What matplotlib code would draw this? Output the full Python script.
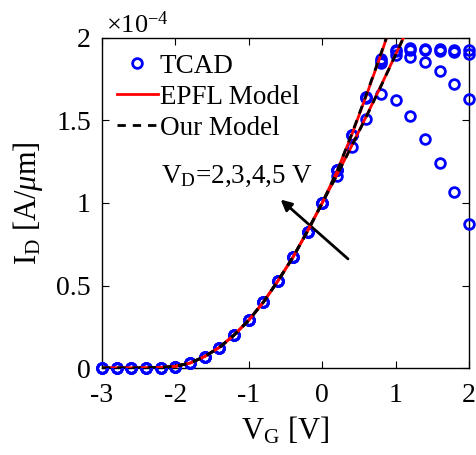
import numpy as np
import matplotlib
matplotlib.use('Agg')
import matplotlib.pyplot as plt

plt.rcParams['font.family'] = ['Liberation Serif', 'DejaVu Serif']
plt.rcParams['mathtext.fontset'] = 'custom'
plt.rcParams['mathtext.rm'] = 'Liberation Serif'
plt.rcParams['mathtext.it'] = 'Liberation Serif:italic'
plt.rcParams['axes.unicode_minus'] = False

# TCAD data, I_D in units of 1e-4 A/um
vg_tcad = np.round(np.arange(-3, 2.01, 0.2), 2)
id_low = [0, 0, 0, 0, 0, 0.008, 0.032, 0.068, 0.123, 0.2, 0.29, 0.40, 0.53, 0.67, 0.826, 1.0]
id_vd2 = id_low + [1.165, 1.34, 1.51, 1.66, 1.624, 1.525, 1.39, 1.24, 1.065, 0.871]
id_vd3 = id_low + [1.2, 1.41, 1.635, 1.85, 1.897, 1.887, 1.855, 1.80, 1.722, 1.63]
id_vd4 = id_low + [1.2, 1.41, 1.645, 1.86, 1.92, 1.93, 1.927, 1.92, 1.913, 1.90]
id_vd5 = id_low + [1.2, 1.41, 1.645, 1.87, 1.93, 1.937, 1.935, 1.932, 1.93, 1.925]

# model curves
vg_model = np.round(np.arange(-3, 1.21, 0.2), 2)
mod_low = [0, 0, 0, 0.001, 0.003, 0.01, 0.03, 0.07, 0.125, 0.2, 0.29, 0.40, 0.53, 0.67, 0.83, 1.0]
epfl_a = mod_low + [1.19, 1.41, 1.65, 1.90, 2.16, 2.42]
epfl_b = mod_low + [1.17, 1.345, 1.525, 1.71, 1.90, 2.09]
our_a = mod_low + [1.19, 1.415, 1.655, 1.905, 2.165, 2.43]
our_b = mod_low + [1.168, 1.343, 1.522, 1.708, 1.898, 2.09]

fig = plt.figure(figsize=(4.76, 4.55), dpi=100)
ax = fig.add_axes([0.2143, 0.1912, 0.771, 0.7253])

for k, ys in enumerate([id_vd2, id_vd3, id_vd4, id_vd5]):
    ax.plot(vg_tcad, ys, 'o', color='blue', mfc='none', ms=7, mew=2,
            label='TCAD' if k == 0 else None, clip_on=False, zorder=3)
for k, ys in enumerate([epfl_a, epfl_b]):
    ax.plot(vg_model, ys, '-', color='red', lw=2,
            label='EPFL Model' if k == 0 else None, zorder=4)
for k, ys in enumerate([our_a, our_b]):
    ax.plot(vg_model, ys, '--', color='black', lw=2, dashes=(3, 2.5),
            label='Our Model' if k == 0 else None, zorder=5)

ax.set_xlim(-3, 2)
ax.set_ylim(0, 2)
ax.set_xticks([-3, -2, -1, 0, 1, 2])
ax.set_yticks([0, 0.5, 1, 1.5, 2])
ax.set_yticklabels(['0', '0.5', '1', '1.5', '2'])
ax.tick_params(direction='in', top=True, right=True, length=5, labelsize=20)
ax.tick_params(axis='x', pad=11)
ax.tick_params(axis='y', pad=8)
for s in ax.spines.values():
    s.set_linewidth(1)

ax.set_xlabel(r'V$_{\rm G}$ [V]', fontsize=22, labelpad=5)
ax.set_ylabel(r'I$_{\rm D}$ [A/$\mu$m]', fontsize=22, labelpad=8)
ax.text(0.01, 1.0, r'$\times$10$^{-4}$', transform=ax.transAxes, fontsize=19,
        ha='left', va='bottom')

leg = ax.legend(loc='upper left', frameon=False, fontsize=19.5, handlelength=1.55,
                handletextpad=0.05, labelspacing=0.22, borderaxespad=0.0,
                bbox_to_anchor=(0.01, 0.985))

ax.annotate('', xy=(-0.595, 1.032), xytext=(0.38, 0.65),
            arrowprops=dict(arrowstyle='-|>', color='black', lw=2, mutation_scale=16))
ax.text(-2.19, 1.12, r'V$_{\rm D}$=2,3,4,5 V', fontsize=19.5, ha='left', va='baseline')

fig.savefig('out.png', dpi=100)
